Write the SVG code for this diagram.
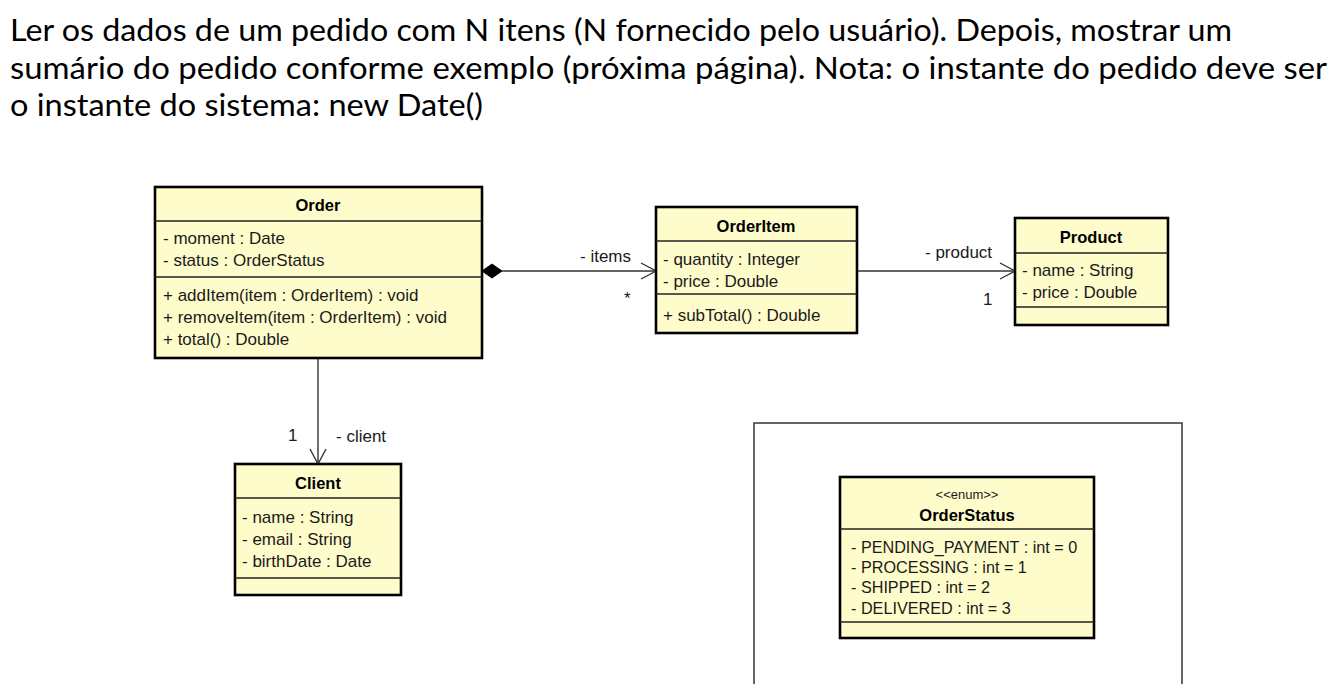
<svg xmlns="http://www.w3.org/2000/svg" width="1336" height="684" viewBox="0 0 1336 684">
<style>
.hd{font-family:Lato,"Liberation Sans",sans-serif;font-size:30px;fill:#000}
.box{fill:#FFFCCB;stroke:#000;stroke-width:2.6}
.div{stroke:#222;stroke-width:1.4;fill:none}
.t{font-family:"Liberation Sans",Arial,sans-serif;font-size:17px;fill:#1a1a1a}
.e{font-family:"Liberation Sans",Arial,sans-serif;font-size:16.2px;fill:#1a1a1a}
.b{font-family:"Liberation Sans",Arial,sans-serif;font-size:16.5px;font-weight:bold;fill:#000;text-anchor:middle}
.s{font-family:"Liberation Sans",Arial,sans-serif;font-size:13px;fill:#1a1a1a;text-anchor:middle}
.ln{stroke:#333;stroke-width:1.4;fill:none}
.frame{stroke:#333;stroke-width:1.5;fill:none}
</style>
<rect width="1336" height="684" fill="#fff"/>
<g id="heading">
<text class="hd" x="10" y="41" textLength="1222" lengthAdjust="spacingAndGlyphs">Ler os dados de um pedido com N itens (N fornecido pelo usuário). Depois, mostrar um</text>
<text class="hd" x="10" y="79" textLength="1317" lengthAdjust="spacingAndGlyphs">sumário do pedido conforme exemplo (próxima página). Nota: o instante do pedido deve ser</text>
<text class="hd" x="10" y="116" textLength="473" lengthAdjust="spacingAndGlyphs">o instante do sistema: new Date()</text>
</g>
<g id="connectors">
<line class="ln" x1="502" y1="271" x2="656" y2="271"/>
<path class="ln" d="M641,263 L656,271 L641,279"/>
<path d="M482,271 L492,264 L502,271 L492,278 Z" fill="#000" stroke="#000" stroke-width="1"/>
<text class="t" x="580" y="262">- items</text>
<text class="t" x="624" y="304">*</text>
<line class="ln" x1="857" y1="271" x2="1015" y2="271"/>
<path class="ln" d="M1000,263 L1015,271 L1000,279"/>
<text class="t" x="925" y="258">- product</text>
<text class="t" x="983" y="305">1</text>
<line class="ln" x1="318" y1="358" x2="318" y2="464"/>
<path class="ln" d="M310,449 L318,464 L326,449"/>
<text class="t" x="288" y="441">1</text>
<text class="t" x="336" y="442">- client</text>
</g>
<g id="Order">
<rect class="box" x="155" y="187" width="327" height="171"/>
<line class="div" x1="155" y1="221" x2="482" y2="221"/>
<line class="div" x1="155" y1="277" x2="482" y2="277"/>
<text class="b" x="318" y="211">Order</text>
<text class="t" x="163" y="244">- moment : Date</text>
<text class="t" x="163" y="266">- status : OrderStatus</text>
<text class="t" x="163" y="301">+ addItem(item : OrderItem) : void</text>
<text class="t" x="163" y="323">+ removeItem(item : OrderItem) : void</text>
<text class="t" x="163" y="345">+ total() : Double</text>
</g>
<g id="OrderItem">
<rect class="box" x="656" y="207" width="201" height="126"/>
<line class="div" x1="656" y1="241" x2="857" y2="241"/>
<line class="div" x1="656" y1="294" x2="857" y2="294"/>
<text class="b" x="756" y="232">OrderItem</text>
<text class="t" x="663" y="265">- quantity : Integer</text>
<text class="t" x="663" y="287">- price : Double</text>
<text class="t" x="663" y="321">+ subTotal() : Double</text>
</g>
<g id="Product">
<rect class="box" x="1015" y="218" width="153" height="107"/>
<line class="div" x1="1015" y1="253" x2="1168" y2="253"/>
<line class="div" x1="1015" y1="307" x2="1168" y2="307"/>
<text class="b" x="1091" y="243">Product</text>
<text class="t" x="1022" y="276">- name : String</text>
<text class="t" x="1022" y="298">- price : Double</text>
</g>
<g id="Client">
<rect class="box" x="235" y="464" width="166" height="131"/>
<line class="div" x1="235" y1="498" x2="401" y2="498"/>
<line class="div" x1="235" y1="578" x2="401" y2="578"/>
<text class="b" x="318" y="489">Client</text>
<text class="t" x="242" y="523">- name : String</text>
<text class="t" x="242" y="545">- email : String</text>
<text class="t" x="242" y="567">- birthDate : Date</text>
</g>
<g id="frame">
<path class="frame" d="M754,684 L754,423 L1182,423 L1182,684"/>
</g>
<g id="OrderStatus">
<rect class="box" x="840" y="477" width="254" height="161"/>
<line class="div" x1="840" y1="529" x2="1094" y2="529"/>
<line class="div" x1="840" y1="622" x2="1094" y2="622"/>
<text class="s" x="967" y="499">&lt;&lt;enum&gt;&gt;</text>
<text class="b" x="967" y="521">OrderStatus</text>
<text class="e" x="851" y="553">- PENDING_PAYMENT : int = 0</text>
<text class="e" x="851" y="573">- PROCESSING : int = 1</text>
<text class="e" x="851" y="593">- SHIPPED : int = 2</text>
<text class="e" x="851" y="614">- DELIVERED : int = 3</text>
</g>
</svg>
